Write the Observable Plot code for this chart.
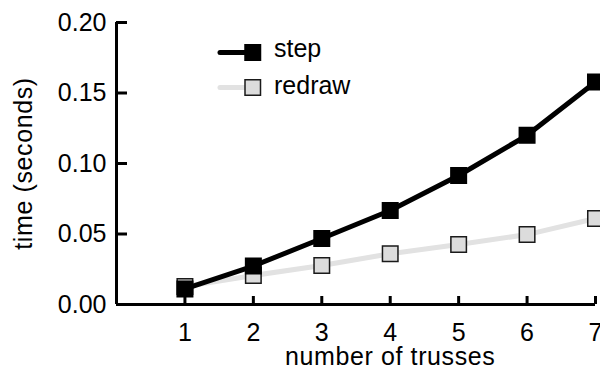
<!DOCTYPE html>
<html>
<head>
<meta charset="utf-8">
<script src="https://cdn.jsdelivr.net/npm/d3@7"></script>
<script src="https://cdn.jsdelivr.net/npm/@observablehq/plot@0.6"></script>
<style>
  html, body { margin: 0; padding: 0; background: #fff; }
  #wrap { position: relative; width: 600px; height: 373px; overflow: hidden; font-family: "Liberation Sans", Arial, sans-serif; }
  #legend { position: absolute; left: 0; top: 0; }
</style>
</head>
<body>
<div id="wrap"></div>
<script>
const trusses = [1, 2, 3, 4, 5, 6, 7];
const stepTime = [0.0110, 0.0273, 0.0468, 0.0667, 0.0915, 0.1200, 0.1578];
const redrawTime = [0.0128, 0.0206, 0.0277, 0.0360, 0.0425, 0.0496, 0.0610];
const xTicks = [1, 2, 3, 4, 5, 6, 7];
const yTicks = [0.00, 0.05, 0.10, 0.15, 0.20];
const seriesNames = ["step", "redraw"];
const xLabel = "number of trusses";
const yLabel = "time (seconds)";

const stepData = trusses.map((x, i) => ({x, y: stepTime[i]}));
const redrawData = trusses.map((x, i) => ({x, y: redrawTime[i]}));

const FONT = "Liberation Sans, Arial, sans-serif";
const W = 600, H = 373;
const mL = 116, mR = 5, mT = 22, mB = 69;
const frameW = W - mL - mR, frameH = H - mT - mB;
const R = 8.75; // square marker size in Plot's dot units

const redrawFill = "#dcdcdc";
const redrawLine = "#e2e2e2";

const chart = Plot.plot({
  width: W,
  height: H,
  marginLeft: mL,
  marginRight: mR,
  marginTop: mT,
  marginBottom: mB,
  style: {fontFamily: FONT, fontSize: "24px", color: "#000", background: "#fff", overflow: "hidden"},
  x: {domain: [0, 7], axis: null},
  y: {domain: [0, 0.2], axis: null},
  marks: [
    // axis lines
    Plot.ruleX([0], {y1: 0, y2: 0.2, stroke: "#000", strokeWidth: 3}),
    Plot.ruleY([0], {x1: 0, x2: 7, stroke: "#000", strokeWidth: 3}),
    // inward ticks
    Plot.tickY(yTicks, {y: d => d, stroke: "#000", strokeWidth: 3, insetRight: frameW - 11}),
    Plot.tickX(xTicks, {x: d => d, stroke: "#000", strokeWidth: 3, insetTop: frameH - 8}),
    // tick labels
    Plot.axisY(yTicks, {tickSize: 0, tickPadding: 10, fontSize: 25, tickFormat: d3.format(".2f"), label: null}),
    Plot.axisX(xTicks, {tickSize: 0, tickPadding: 19, fontSize: 25, tickFormat: d => String(d), label: null}),
    // axis titles
    Plot.text([yLabel], {frameAnchor: "left", textAnchor: "middle", lineAnchor: "middle", dx: -93, rotate: -90, fontSize: 25, fill: "#000"}),
    Plot.text([xLabel], {x: () => 4, frameAnchor: "bottom", textAnchor: "middle", lineAnchor: "middle", dy: 52, fontSize: 25, fill: "#000"}),
    // redraw series
    Plot.line(redrawData, {x: "x", y: "y", stroke: redrawLine, strokeWidth: 5}),
    Plot.dot(redrawData, {x: "x", y: "y", symbol: "square", r: R, fill: redrawFill, stroke: "#1a1a1a", strokeWidth: 1.5}),
    // step series
    Plot.line(stepData, {x: "x", y: "y", stroke: "#000", strokeWidth: 5}),
    Plot.dot(stepData, {x: "x", y: "y", symbol: "square", r: R, fill: "#000", stroke: "#000", strokeWidth: 1.5})
  ]
});

const wrap = document.getElementById("wrap");
wrap.appendChild(chart);
// slight letter spacing on axis titles to match the reference's wider setting
chart.querySelectorAll("text").forEach(t => {
  if (t.textContent === xLabel || t.textContent === yLabel) t.setAttribute("letter-spacing", "0.6");
});

// legend overlay
const ns = "http://www.w3.org/2000/svg";
const leg = document.createElementNS(ns, "svg");
leg.setAttribute("id", "legend");
leg.setAttribute("width", W);
leg.setAttribute("height", 120);
const items = [
  {name: seriesNames[0], line: "#000", fill: "#000", stroke: "#000", cy: 52.5, base: 57},
  {name: seriesNames[1], line: redrawLine, fill: redrawFill, stroke: "#1a1a1a", cy: 87.5, base: 94}
];
for (const it of items) {
  const l = document.createElementNS(ns, "line");
  l.setAttribute("x1", 220); l.setAttribute("x2", 250);
  l.setAttribute("y1", it.cy); l.setAttribute("y2", it.cy);
  l.setAttribute("stroke", it.line); l.setAttribute("stroke-width", 5);
  l.setAttribute("stroke-linecap", "round");
  leg.appendChild(l);
  const r = document.createElementNS(ns, "rect");
  r.setAttribute("x", 245); r.setAttribute("y", it.cy - 7.75);
  r.setAttribute("width", 15.5); r.setAttribute("height", 15.5);
  r.setAttribute("fill", it.fill); r.setAttribute("stroke", it.stroke); r.setAttribute("stroke-width", 1.5);
  leg.appendChild(r);
  const t = document.createElementNS(ns, "text");
  t.setAttribute("x", 274); t.setAttribute("y", it.base);
  t.setAttribute("font-size", 25);
  t.setAttribute("font-family", FONT);
  t.setAttribute("fill", "#000");
  t.textContent = it.name;
  leg.appendChild(t);
}
wrap.appendChild(leg);
</script>
</body>
</html>
